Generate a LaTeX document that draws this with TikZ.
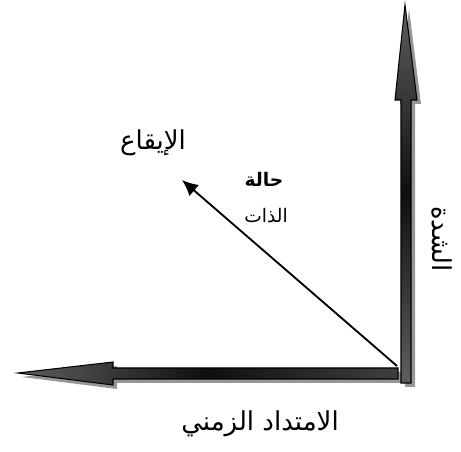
\documentclass[tikz,border=0pt]{standalone}
\usepackage{fontspec}
\usepackage{xcolor}
\usetikzlibrary{arrows.meta}
\TeXXeTstate=1
\newfontfamily\arabicfont[Script=Arabic]{DejaVu Sans}
\definecolor{arrowshade}{RGB}{95,95,95}
\definecolor{arrowdark}{RGB}{15,15,15}
\definecolor{shadowgray}{RGB}{150,150,150}

\tikzset{
  blockarrow/.style={draw=black,line width=0.8pt,line join=miter},
  blockshadow/.style={fill=shadowgray,draw=none},
  arlabel/.style={font=\arabicfont\fontsize{19.5}{22}\selectfont,inner sep=1pt},
  smalllabel/.style={font=\arabicfont\fontsize{14}{16}\selectfont,inner sep=1pt}
}

\begin{document}
\begin{tikzpicture}[x=0.75pt,y=-0.75pt]
  \useasboundingbox (0,0) rectangle (461,452);
  % corner and tips
  \coordinate (corner) at (397,366);
  \coordinate (state) at (182,180);
  % shadows
  \fill[blockshadow] (400,104)--(409,9)--(421,104)--(415,104)--(415,387)--(405,387)--(405,104)--cycle;
  \fill[blockshadow] (22,377)--(117,366)--(117,372)--(402,372)--(402,383)--(117,383)--(117,389)--cycle;
  % vertical block arrow
  \draw[blockarrow,top color=arrowshade,bottom color=arrowshade,middle color=arrowdark]
    (395,100)--(405,5)--(417,100)--(411,100)--(411,383)--(401,383)--(401,100)--cycle;
  % horizontal block arrow
  \draw[blockarrow,left color=arrowshade,right color=arrowdark!80,middle color=arrowdark]
    (18,373)--(113,362)--(113,368)--(398,368)--(398,379)--(113,379)--(113,385)--cycle;
  % thin arrow
  \draw[line width=1.4pt,-{Latex[length=12pt,width=11pt]}] (corner)--(state);
  % labels
  \node[arlabel] (rhythm) at (153,143) {\beginR الإيقاع\endR};
  \node[smalllabel,font=\arabicfont\bfseries\fontsize{14}{16}\selectfont] (stateA) at (264,179) {\beginR حالة\endR};
  \node[smalllabel] (stateB) at (266,216) {\beginR الذات\endR};
  \node[arlabel,rotate=-90] (intensity) at (442,239) {\beginR الشدة\endR};
  \node[arlabel] (duration) at (260,424) {\beginR الامتداد الزمني\endR};
\end{tikzpicture}
\end{document}
